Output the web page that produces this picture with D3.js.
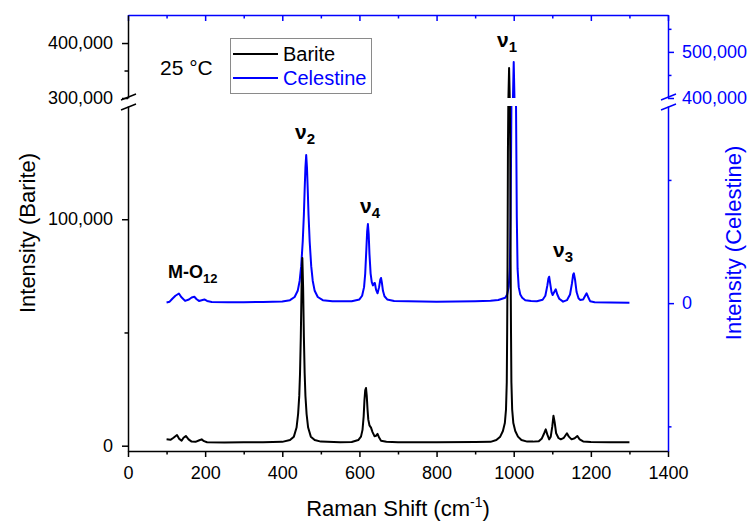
<!DOCTYPE html>
<html>
<head>
<meta charset="utf-8">
<script src="https://cdn.jsdelivr.net/npm/d3@7"></script>
<style>
  body { margin: 0; background: #fff; }
  text { font-family: "Liberation Sans", Arial, sans-serif; }
</style>
</head>
<body>
<div class="chart"></div>
<script>
// Raman spectra, Barite (left axis) and Celestine (right axis), both with a broken y axis
var svgWidth = 748;
var svgHeight = 523;

var margin = { top: 15, right: 80, bottom: 72, left: 128 };
var width = svgWidth - margin.left - margin.right;   // 540
var height = svgHeight - margin.top - margin.bottom; // 436

// where the y axis is broken (inside the chart group)
var upperBottom = 83;
var lowerTop = 91;

// data: [Raman shift cm-1, intensity]
var bariteSpectrum = [
  [100, 2800], [110, 2600], [118, 3500], [127, 4700], [133, 3000], [139, 2200], [144, 3500],
  [150, 4300], [157, 2800], [165, 1800], [175, 1700], [185, 2400], [191, 2800], [197, 2000],
  [205, 1500], [250, 1400], [300, 1500], [350, 1500], [400, 1700], [420, 2500], [430, 4000],
  [437, 8000], [441, 14000], [444, 22000], [446, 32000], [448, 48000], [450, 70000], [452, 82900],
  [454, 70000], [456, 48000], [458, 32000], [460, 22000], [463, 14000], [467, 8000], [474, 4000],
  [484, 2500], [500, 1800], [550, 1500], [580, 1600], [597, 2500], [604, 4000], [608, 7000],
  [611, 13000], [613, 20000], [615, 24500], [617, 25500], [619, 22000], [621, 16000], [623, 11500],
  [626, 9000], [630, 8000], [634, 6000], [639, 4200], [643, 4400], [647, 5200], [651, 3600],
  [656, 2200], [670, 1700], [700, 1500], [800, 1500], [900, 1600], [940, 1700], [955, 2500],
  [965, 4000], [972, 6500], [977, 10000], [980, 16000], [982, 28000], [983, 50000], [984, 80000],
  [985, 130000], [986, 200000], [988, 354500], [990, 200000], [991, 130000], [992, 80000],
  [993, 50000], [994, 28000], [996, 16000], [999, 10000], [1004, 6500], [1011, 4000], [1020, 2500],
  [1035, 1800], [1050, 1800], [1065, 2000], [1073, 3200], [1079, 5500], [1083, 7200], [1087, 5000],
  [1092, 2800], [1096, 4000], [1100, 8500], [1103, 13200], [1106, 10500], [1110, 5500], [1116, 3400],
  [1122, 2800], [1130, 3500], [1138, 5500], [1143, 4000], [1150, 2800], [1158, 3300], [1165, 4300],
  [1171, 2800], [1180, 1900], [1200, 1600], [1250, 1500], [1300, 1500]
];

var celestineSpectrum = [
  [100, 300], [108, 600], [115, 1800], [123, 3000], [132, 3900], [138, 2500], [148, 900],
  [158, 1500], [165, 2300], [172, 2600], [178, 1600], [184, 900], [191, 1200], [198, 1500],
  [205, 900], [217, 500], [260, 400], [300, 400], [350, 500], [400, 700], [420, 1200], [432, 2500],
  [440, 5000], [445, 9000], [449, 15000], [453, 25000], [456, 36000], [458, 46000], [460, 55000],
  [462, 60100], [464, 55000], [466, 46000], [468, 36000], [471, 25000], [475, 15000], [479, 9000],
  [484, 5000], [492, 2500], [505, 1200], [530, 800], [580, 800], [600, 1500], [607, 3000],
  [612, 6500], [615, 12000], [618, 22000], [620, 29000], [622, 32100], [624, 28000], [626, 20000],
  [629, 12000], [632, 8500], [635, 7200], [638, 8000], [640, 8200], [643, 5500], [647, 4000],
  [651, 6500], [654, 9500], [656, 10200], [658, 8500], [661, 5000], [665, 2800], [672, 1500],
  [690, 900], [800, 600], [900, 800], [940, 1000], [960, 1300], [970, 1800], [978, 2200],
  [983, 3500], [987, 6500], [990, 14000], [992, 35000], [994, 80000], [996, 180000],
  [998, 350000], [1000, 478000], [1002, 350000], [1004, 180000], [1006, 80000], [1008, 35000],
  [1010, 14000], [1013, 6500], [1017, 3500], [1022, 2200], [1030, 1200], [1045, 900], [1060, 800],
  [1075, 1400], [1082, 3000], [1087, 7000], [1090, 10000], [1092, 10700], [1095, 7500],
  [1098, 4500], [1101, 3300], [1105, 4500], [1109, 5600], [1113, 3500], [1118, 1800], [1128, 600],
  [1138, 1200], [1146, 3500], [1151, 8000], [1154, 11500], [1156, 12100], [1159, 9500],
  [1163, 4500], [1168, 2000], [1172, 1300], [1180, 1500], [1186, 3200], [1189, 4000], [1193, 2500],
  [1198, 800], [1210, 400], [1250, 300], [1300, 200]
];

// tick values
var xMajorTicks = [0, 200, 400, 600, 800, 1000, 1200, 1400];
var xMinorTicks = [100, 300, 500, 700, 900, 1100, 1300];
var leftLowTicks = [0, 100000];
var leftLowMinor = [50000];
var leftHighTicks = [300000, 400000];
var leftHighMinor = [350000];
var rightLowTicks = [0];
var rightLowMinor = [-50000, 50000];
var rightHighTicks = [400000, 500000];
var rightHighMinor = [450000, 550000];

// peak annotations
var peakNames = ["\u03bd", "\u03bd", "\u03bd", "\u03bd", "M-O"];
var peakSubs = ["2", "4", "1", "3", "12"];

var blue = "#0000ff";
var fontTick = 18;

var svg = d3.select(".chart")
  .append("svg")
  .attr("width", svgWidth)
  .attr("height", svgHeight)
  .style("background", "#fff");

var chartGroup = svg.append("g")
  .attr("transform", `translate(${margin.left}, ${margin.top})`);

// scales
var xScale = d3.scaleLinear().domain([0, 1400]).range([0, width]);

var leftLow = d3.scaleLinear().domain([-2340, 150000]).range([height, lowerTop]);
var leftHigh = d3.scaleLinear().domain([300000, 451000]).range([upperBottom, 0]);
var leftGap = d3.scaleLinear().domain([150000, 300000]).range([lowerTop, upperBottom]);

var rightLow = d3.scaleLinear().domain([-60000, 80000]).range([height, lowerTop]);
var rightHigh = d3.scaleLinear().domain([400000, 580000]).range([upperBottom, 0]);
var rightGap = d3.scaleLinear().domain([80000, 400000]).range([lowerTop, upperBottom]);

function yBarite(v) {
  if (v <= 150000) return leftLow(v);
  if (v >= 300000) return leftHigh(v);
  return leftGap(v);
}
function yCelestine(v) {
  if (v <= 80000) return rightLow(v);
  if (v >= 400000) return rightHigh(v);
  return rightGap(v);
}

// clip both segments, leaving the break empty
var clip = svg.append("defs").append("clipPath").attr("id", "segments");
clip.append("rect").attr("x", 0).attr("y", 0).attr("width", width).attr("height", upperBottom);
clip.append("rect").attr("x", 0).attr("y", lowerTop).attr("width", width).attr("height", height - lowerTop);

var lineCel = d3.line().x(d => xScale(d[0])).y(d => yCelestine(d[1]));
var lineBar = d3.line().x(d => xScale(d[0])).y(d => yBarite(d[1]));

chartGroup.append("path")
  .datum(celestineSpectrum)
  .attr("clip-path", "url(#segments)")
  .attr("fill", "none")
  .attr("stroke", blue)
  .attr("stroke-width", 2)
  .attr("stroke-linejoin", "round")
  .attr("d", lineCel);

chartGroup.append("path")
  .datum(bariteSpectrum)
  .attr("clip-path", "url(#segments)")
  .attr("fill", "none")
  .attr("stroke", "#000")
  .attr("stroke-width", 2)
  .attr("stroke-linejoin", "round")
  .attr("d", lineBar);

// helper to style an axis group
function styleAxis(g, color) {
  g.attr("font-family", null).attr("font-size", null);
  g.selectAll("path, line").attr("stroke", color).attr("stroke-width", 1.5);
  g.selectAll("text").attr("fill", color).style("font-size", fontTick + "px");
}
function noDomain(g) { g.select(".domain").remove(); }

// bottom axis
chartGroup.append("g")
  .attr("transform", `translate(0, ${height})`)
  .call(d3.axisBottom(xScale).tickValues(xMajorTicks).tickSize(6).tickSizeOuter(0)
    .tickPadding(9).tickFormat(d3.format("d")))
  .call(g => styleAxis(g, "#000"));
chartGroup.append("g")
  .attr("transform", `translate(0, ${height})`)
  .call(d3.axisBottom(xScale).tickValues(xMinorTicks).tickSize(3.5).tickFormat(""))
  .call(noDomain)
  .call(g => styleAxis(g, "#000"));

// top axis, ticks point inward
chartGroup.append("g")
  .call(d3.axisTop(xScale).tickValues(xMajorTicks).tickSize(-6).tickSizeOuter(0).tickFormat(""))
  .call(g => styleAxis(g, blue));
chartGroup.append("g")
  .call(d3.axisTop(xScale).tickValues(xMinorTicks).tickSize(-3.5).tickFormat(""))
  .call(noDomain)
  .call(g => styleAxis(g, blue));

var fmt = d3.format(",");

// left axis, two segments
chartGroup.append("g")
  .call(d3.axisLeft(leftLow).tickValues(leftLowTicks).tickSize(6).tickSizeOuter(0).tickPadding(9).tickFormat(fmt))
  .call(g => styleAxis(g, "#000"));
chartGroup.append("g")
  .call(d3.axisLeft(leftLow).tickValues(leftLowMinor).tickSize(3.5).tickFormat(""))
  .call(noDomain)
  .call(g => styleAxis(g, "#000"));
chartGroup.append("g")
  .call(d3.axisLeft(leftHigh).tickValues(leftHighTicks).tickSize(6).tickSizeOuter(0).tickPadding(9).tickFormat(fmt))
  .call(g => styleAxis(g, "#000"));
chartGroup.append("g")
  .call(d3.axisLeft(leftHigh).tickValues(leftHighMinor).tickSize(3.5).tickFormat(""))
  .call(noDomain)
  .call(g => styleAxis(g, "#000"));

// right axis, two segments
chartGroup.append("g")
  .attr("transform", `translate(${width}, 0)`)
  .call(d3.axisRight(rightLow).tickValues(rightLowTicks).tickSize(6).tickSizeOuter(0).tickPadding(8).tickFormat(fmt))
  .call(g => styleAxis(g, blue));
chartGroup.append("g")
  .attr("transform", `translate(${width}, 0)`)
  .call(d3.axisRight(rightLow).tickValues(rightLowMinor).tickSize(3.5).tickFormat(""))
  .call(noDomain)
  .call(g => styleAxis(g, blue));
chartGroup.append("g")
  .attr("transform", `translate(${width}, 0)`)
  .call(d3.axisRight(rightHigh).tickValues(rightHighTicks).tickSize(6).tickSizeOuter(0).tickPadding(8).tickFormat(fmt))
  .call(g => styleAxis(g, blue));
chartGroup.append("g")
  .attr("transform", `translate(${width}, 0)`)
  .call(d3.axisRight(rightHigh).tickValues(rightHighMinor).tickSize(3.5).tickFormat(""))
  .call(noDomain)
  .call(g => styleAxis(g, blue));

// break marks
function breakMarks(xPos, color) {
  [upperBottom - 1, lowerTop + 1].forEach(function(yb) {
    chartGroup.append("line")
      .attr("x1", xPos - 7).attr("y1", yb + 3)
      .attr("x2", xPos + 8).attr("y2", yb - 3)
      .attr("stroke", color)
      .attr("stroke-width", 1.5);
  });
}
breakMarks(0, "#000");
breakMarks(width, blue);

// axis titles
var xTitle = svg.append("text")
  .attr("x", 398)
  .attr("y", 516)
  .attr("text-anchor", "middle")
  .style("font-size", "22px")
  .attr("fill", "#000");
xTitle.append("tspan").text("Raman Shift (cm");
xTitle.append("tspan").attr("dy", -9).style("font-size", "14px").text("-1");
xTitle.append("tspan").attr("dy", 9).text(")");

svg.append("text")
  .attr("transform", "translate(35, 233) rotate(-90)")
  .attr("text-anchor", "middle")
  .style("font-size", "22px")
  .attr("fill", "#000")
  .text("Intensity (Barite)");

svg.append("text")
  .attr("transform", "translate(741, 243) rotate(-90)")
  .attr("text-anchor", "middle")
  .style("font-size", "22px")
  .attr("fill", blue)
  .text("Intensity (Celestine)");

// temperature label
svg.append("text")
  .attr("x", 160)
  .attr("y", 75)
  .style("font-size", "21px")
  .attr("fill", "#000")
  .text("25 \u00b0C");

// legend
var legend = svg.append("g");
legend.append("rect")
  .attr("x", 230.5).attr("y", 38.5)
  .attr("width", 141).attr("height", 55)
  .attr("fill", "#fff")
  .attr("stroke", "#8a8a8a")
  .attr("stroke-width", 1);
[["Barite", "#000", 54], ["Celestine", blue, 78]].forEach(function(item) {
  legend.append("line")
    .attr("x1", 233).attr("x2", 278)
    .attr("y1", item[2]).attr("y2", item[2])
    .attr("stroke", item[1])
    .attr("stroke-width", 2);
  legend.append("text")
    .attr("x", 283)
    .attr("y", item[2] + 7)
    .style("font-size", "20px")
    .attr("fill", item[1])
    .text(item[0]);
});

// peak labels (positions in pixels of the page)
var peakPos = [[295, 139], [360, 213], [497, 47], [553, 257], [168, 278]];
peakNames.forEach(function(name, i) {
  var isMO = name === "M-O";
  var t = svg.append("text")
    .attr("x", peakPos[i][0])
    .attr("y", peakPos[i][1])
    .style("font-weight", "bold")
    .style("font-size", isMO ? "18px" : "21px")
    .attr("fill", "#000");
  t.append("tspan").text(name);
  t.append("tspan")
    .attr("dy", 5)
    .style("font-size", isMO ? "13px" : "15px")
    .text(peakSubs[i]);
});
</script>
</body>
</html>
